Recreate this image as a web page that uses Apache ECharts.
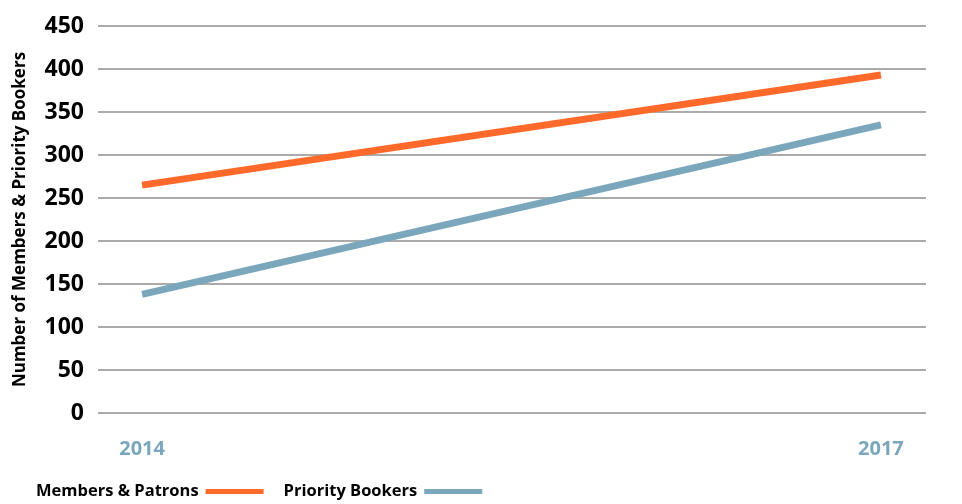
<!DOCTYPE html>
<html>
<head>
<meta charset="utf-8">
<script src="https://cdn.jsdelivr.net/npm/echarts@6/dist/echarts.min.js"></script>
<style>html,body{margin:0;padding:0;background:#fff;}#c{width:962px;height:504px;}</style>
</head>
<body>
<div id="c"></div>
<script>
const years = [2014, 2017];
const membersPatrons = [265, 393];
const priorityBookers = [138, 335];
const yTicks = [0, 50, 100, 150, 200, 250, 300, 350, 400, 450];
const seriesNames = ['Members & Patrons', 'Priority Bookers'];
const yTitle = 'Number of Members & Priority Bookers';

const chart = echarts.init(document.getElementById('c'));
chart.setOption({
  backgroundColor: '#ffffff',
  animation: false,
  grid: { left: 98, right: 36, top: 26, bottom: 91 },
  legend: {
    left: 31, top: 478,
    align: 'right',
    icon: 'rect',
    itemWidth: 58, itemHeight: 5,
    itemGap: 20,
    textStyle: { fontFamily: 'Open Sans', fontWeight: 'bold', fontSize: 16.5, color: '#000', padding: [0, 2, 0, 0] },
    data: seriesNames
  },
  xAxis: {
    type: 'value',
    min: 2013.821, max: 2017.183,
    axisLine: { show: false }, axisTick: { show: false }, splitLine: { show: false },
    axisLabel: {
      customValues: years,
      margin: 26,
      color: '#7BA7BC', fontFamily: 'Open Sans', fontWeight: 'bold', fontSize: 20,
      formatter: v => String(Math.round(v))
    }
  },
  yAxis: {
    type: 'value',
    min: yTicks[0], max: yTicks[yTicks.length - 1], interval: 50,
    name: yTitle,
    nameLocation: 'middle',
    nameGap: 69,
    nameTextStyle: { fontFamily: 'Open Sans', fontWeight: 'bold', fontSize: 17, color: '#000' },
    axisLine: { show: false }, axisTick: { show: false },
    splitLine: { lineStyle: { color: '#ababab', width: 2 } },
    axisLabel: {
      margin: 14,
      color: '#000', fontFamily: 'Open Sans', fontWeight: 'bold', fontSize: 23,
      padding: [0, 0, 16, 0]
    }
  },
  series: [
    {
      name: seriesNames[0], type: 'line', showSymbol: false,
      data: years.map((y, i) => [y, membersPatrons[i]]),
      itemStyle: { color: '#FF6A2B' },
      lineStyle: { color: '#FF6A2B', width: 7, cap: 'butt' }
    },
    {
      name: seriesNames[1], type: 'line', showSymbol: false,
      data: years.map((y, i) => [y, priorityBookers[i]]),
      itemStyle: { color: '#7BA7BC' },
      lineStyle: { color: '#7BA7BC', width: 7, cap: 'butt' }
    }
  ]
});
</script>
</body>
</html>
